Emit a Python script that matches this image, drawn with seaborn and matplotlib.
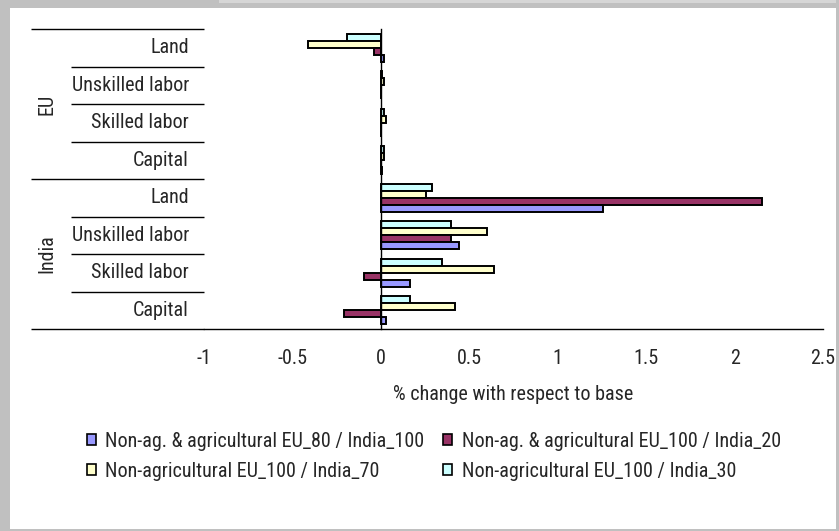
import numpy as np
import pandas as pd
import seaborn as sns
import matplotlib.pyplot as plt
from matplotlib.patches import Patch, Rectangle
from matplotlib.transforms import blended_transform_factory
from matplotlib import font_manager

# Data
groups = ['EU', 'India']
factors = ['Land', 'Unskilled labor', 'Skilled labor', 'Capital']
series = ['Non-ag. & agricultural EU_80 / India_100',
          'Non-ag. & agricultural EU_100 / India_20',
          'Non-agricultural EU_100 / India_70',
          'Non-agricultural EU_100 / India_30']
colors = ['#9999FF', '#993366', '#FFFFCC', '#CCFFFF']

# values per series, order: EU Land, Unskilled, Skilled, Capital, India Land, Unskilled, Skilled, Capital
s1 = [0.015, 0.003, 0.003, 0.005, 1.257, 0.443, 0.166, 0.027]
s2 = [-0.038, -0.002, 0.003, 0.003, 2.154, 0.399, -0.096, -0.209]
s3 = [-0.41, 0.015, 0.028, 0.015, 0.254, 0.601, 0.637, 0.417]
s4 = [-0.194, 0.005, 0.02, 0.018, 0.287, 0.397, 0.347, 0.166]

x_ticks = [-1, -0.5, 0, 0.5, 1, 1.5, 2, 2.5]
x_label = '% change with respect to base'

cat_keys = [g + '|' + f for g in groups for f in factors]
rows = []
for name, vals in zip(series, [s1, s2, s3, s4]):
    for key, v in zip(cat_keys, vals):
        rows.append({'cat': key, 'series': name, 'value': v})
df = pd.DataFrame(rows)

# look for a narrow / condensed face, the original uses one
fam, stretch, FS = 'Liberation Sans', 'normal', 12.5
narrow = [f for f in font_manager.fontManager.ttflist
          if ('Narrow' in f.name or 'Condensed' in f.name
              or f.stretch in ('condensed', 'semi-condensed', 'extra-condensed'))
          and f.style == 'normal' and f.weight in (400, 'normal', 'regular')]
for pref in ['Liberation Sans Narrow', 'Roboto Condensed', 'DejaVu Sans',
             'Noto Sans', 'Open Sans', 'Open Sans Condensed']:
    hit = [f for f in narrow if f.name == pref]
    if hit:
        fam, stretch, FS = pref, hit[0].stretch, 14.5
        break

sns.set_style('white')
plt.rcParams['font.family'] = [fam, 'DejaVu Sans']
plt.rcParams['font.stretch'] = stretch
plt.rcParams['axes.unicode_minus'] = False

W, H = 839, 531
fig = plt.figure(figsize=(W / 100, H / 100), dpi=100)
fig.patch.set_facecolor('white')

def fx(px):
    return px / W

def fy(py):
    return 1 - py / H

ax = fig.add_axes([fx(204), fy(329), fx(823) - fx(204), fy(29) - fy(329)])
ax.set_facecolor('none')

hue_order = series[::-1]
palette = dict(zip(series, colors))
sns.barplot(data=df, y='cat', x='value', hue='series', order=cat_keys,
            hue_order=hue_order, palette=palette, orient='h', width=0.75,
            edgecolor='black', linewidth=1.4, saturation=1, ax=ax, legend=False)

ax.set_xlim(-1, 2.5)
ax.set_ylim(7.5, -0.5)
for s in ['top', 'right']:
    ax.spines[s].set_visible(False)
ax.spines['left'].set_position(('data', 0))
ax.spines['left'].set_color('black')
ax.spines['bottom'].set_color('black')
ax.spines['left'].set_linewidth(1.0)
ax.spines['bottom'].set_linewidth(1.0)

ax.set_xticks(x_ticks)
ax.set_xticklabels(['{:g}'.format(t) for t in x_ticks], fontsize=FS)
ax.tick_params(axis='x', direction='out', length=4.5, width=1, color='black', pad=10)
ax.set_yticks(np.arange(len(cat_keys)))
ax.set_yticklabels([])
ax.tick_params(axis='y', which='major', length=0)
ax.set_yticks(np.arange(-0.5, len(cat_keys)), minor=True)
ax.tick_params(axis='y', which='minor', direction='out', length=3.8, width=1, color='black')
ax.set_xlabel(x_label, fontsize=FS, labelpad=12)
ax.set_ylabel('')

# multi-level category labels
tr = blended_transform_factory(fig.transFigure, ax.transData)
for i, key in enumerate(cat_keys):
    ax.text(fx(189), i, key.split('|')[1], transform=tr, ha='right', va='center',
            fontsize=FS)
for gi, g in enumerate(groups):
    ax.text(fx(47), gi * 4 + 1.5, g, transform=tr, ha='center', va='center',
            rotation=90, fontsize=FS)
for b in np.arange(-0.5, len(cat_keys)):
    x0 = 31 if b in (-0.5, 3.5, 7.5) else 71
    ax.plot([fx(x0), fx(204)], [b, b], transform=tr, color='black', lw=1.0,
            clip_on=False, solid_capstyle='butt')

# legend
handles = [Patch(facecolor=c, edgecolor='black', linewidth=1.2) for c in colors]
order = [0, 2, 1, 3]
fig.legend([handles[i] for i in order], [series[i] for i in order], ncol=2,
           loc='upper left', bbox_to_anchor=(fx(87), fy(432)), frameon=False,
           fontsize=FS, handlelength=0.45, handleheight=0.45, handletextpad=0.45,
           columnspacing=0.95, labelspacing=0.55, borderpad=0, borderaxespad=0)

# window-like gray border
fig.patches.append(Rectangle((0, fy(8)), 1, fy(0) - fy(8), transform=fig.transFigure,
                             facecolor='#c0c0c0', edgecolor='none'))
fig.patches.append(Rectangle((fx(219), fy(3)), 1 - fx(219), fy(0) - fy(3),
                             transform=fig.transFigure, facecolor='#d6d6d6', edgecolor='none'))
fig.patches.append(Rectangle((0, 0), fx(10), 1, transform=fig.transFigure,
                             facecolor='#c0c0c0', edgecolor='none'))
fig.patches.append(Rectangle((fx(836), 0), 1 - fx(836), 1, transform=fig.transFigure,
                             facecolor='#c0c0c0', edgecolor='none'))
fig.patches.append(Rectangle((0, 0), 1, fy(529), transform=fig.transFigure,
                             facecolor='#c0c0c0', edgecolor='none'))

fig.savefig('out.png', dpi=100)
